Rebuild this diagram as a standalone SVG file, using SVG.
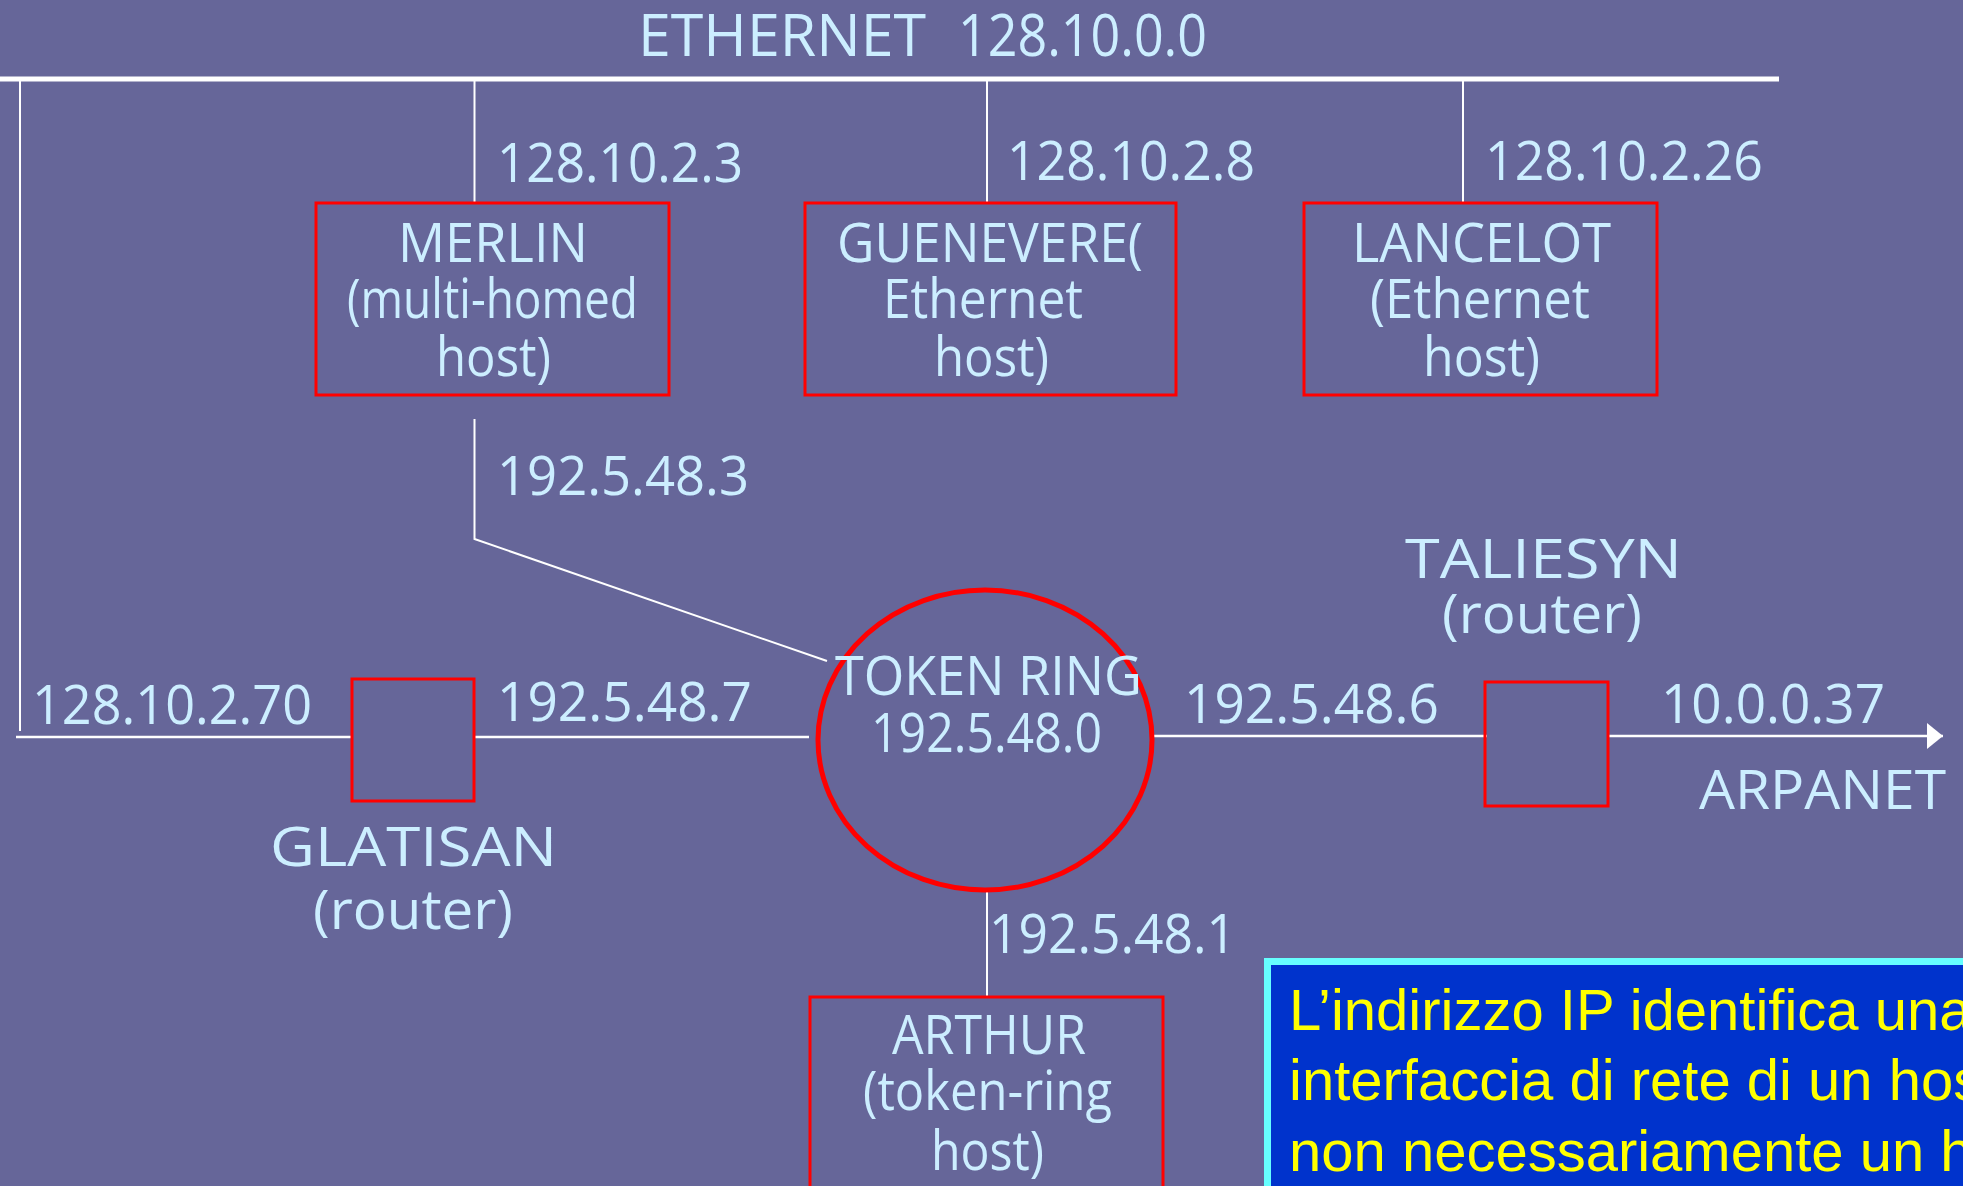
<svg xmlns="http://www.w3.org/2000/svg" width="1963" height="1186" viewBox="0 0 1963 1186">
<style>
.t{font-family:"Open Sans","DejaVu Sans",sans-serif;fill:#CCEEFF;font-size:54px}
.ti{font-size:58px}
.box{fill:none;stroke:#FF0000;stroke-width:3}
.ln{stroke:#FFFFFF;stroke-width:2;fill:none}
.ln2{stroke:#FFFFFF;stroke-width:2.5;fill:none}
.note{font-family:"Liberation Sans",Arial,sans-serif;font-size:58px;fill:#FFFF00}
</style>
<defs>
<marker id="arr" markerUnits="userSpaceOnUse" markerWidth="18" markerHeight="28" refX="16" refY="13" orient="auto">
<path d="M0,0 L16,13 L0,26 Z" fill="#FFFFFF"/>
</marker>
</defs>
<rect width="1963" height="1186" fill="#666699"/>

<g id="ethernet">
<line x1="0" y1="79" x2="1779" y2="79" stroke="#FFFFFF" stroke-width="5"/>
<text class="t ti" y="56"><tspan x="638" textLength="288" lengthAdjust="spacingAndGlyphs">ETHERNET</tspan><tspan x="958" textLength="249" lengthAdjust="spacingAndGlyphs">128.10.0.0</tspan></text>
</g>

<g id="connectors">
<line class="ln" x1="20" y1="79" x2="20" y2="731"/>
<line class="ln" x1="474.5" y1="79" x2="474.5" y2="203"/>
<line class="ln" x1="987" y1="79" x2="987" y2="203"/>
<line class="ln" x1="1463" y1="79" x2="1463" y2="203"/>
<polyline class="ln" points="474.5,419 474.5,539 827,661"/>
<line class="ln2" x1="16" y1="737" x2="351" y2="737"/>
<line class="ln2" x1="475" y1="737" x2="809" y2="737"/>
<line class="ln2" x1="1154" y1="736" x2="1487" y2="736"/>
<line class="ln2" x1="1608" y1="736" x2="1943" y2="736" marker-end="url(#arr)"/>
<line class="ln" x1="987" y1="891" x2="987" y2="997"/>
</g>

<g id="labels">
<text class="t" x="497" y="182" textLength="246" lengthAdjust="spacingAndGlyphs">128.10.2.3</text>
<text class="t" x="1007" y="180" textLength="248" lengthAdjust="spacingAndGlyphs">128.10.2.8</text>
<text class="t" x="1485" y="180" textLength="278" lengthAdjust="spacingAndGlyphs">128.10.2.26</text>
<text class="t" x="497" y="495" textLength="252" lengthAdjust="spacingAndGlyphs">192.5.48.3</text>
<text class="t" x="32" y="724" textLength="280" lengthAdjust="spacingAndGlyphs">128.10.2.70</text>
<text class="t" x="497" y="721" textLength="255" lengthAdjust="spacingAndGlyphs">192.5.48.7</text>
<text class="t" x="1184" y="723" textLength="255" lengthAdjust="spacingAndGlyphs">192.5.48.6</text>
<text class="t" x="1661" y="723" textLength="224" lengthAdjust="spacingAndGlyphs">10.0.0.37</text>
<text class="t" x="1699" y="809" textLength="247" lengthAdjust="spacingAndGlyphs">ARPANET</text>
<text class="t" x="989" y="953" textLength="247" lengthAdjust="spacingAndGlyphs">192.5.48.1</text>
</g>

<g id="merlin">
<rect class="box" x="316" y="203" width="353" height="192"/>
<text class="t" x="398" y="262" textLength="190" lengthAdjust="spacingAndGlyphs">MERLIN</text>
<text class="t" x="347" y="318" textLength="291" lengthAdjust="spacingAndGlyphs">(multi-homed</text>
<text class="t" x="436" y="376" textLength="115" lengthAdjust="spacingAndGlyphs">host)</text>
</g>

<g id="guenevere">
<rect class="box" x="805" y="203" width="371" height="192"/>
<text class="t" x="837" y="262" textLength="306" lengthAdjust="spacingAndGlyphs">GUENEVERE(</text>
<text class="t" x="883" y="318" textLength="200" lengthAdjust="spacingAndGlyphs">Ethernet</text>
<text class="t" x="934" y="376" textLength="115" lengthAdjust="spacingAndGlyphs">host)</text>
</g>

<g id="lancelot">
<rect class="box" x="1304" y="203" width="353" height="192"/>
<text class="t" x="1352" y="262" textLength="259" lengthAdjust="spacingAndGlyphs">LANCELOT</text>
<text class="t" x="1370" y="318" textLength="220" lengthAdjust="spacingAndGlyphs">(Ethernet</text>
<text class="t" x="1423" y="376" textLength="117" lengthAdjust="spacingAndGlyphs">host)</text>
</g>

<g id="glatisan">
<rect class="box" x="352" y="679" width="122" height="122"/>
<text class="t" x="270" y="866" textLength="287" lengthAdjust="spacingAndGlyphs">GLATISAN</text>
<text class="t" x="313" y="929" textLength="200" lengthAdjust="spacingAndGlyphs">(router)</text>
</g>

<g id="tokenring">
<ellipse cx="985" cy="740" rx="167" ry="150" fill="none" stroke="#FF0000" stroke-width="5"/>
<text class="t" x="835" y="695" textLength="307" lengthAdjust="spacingAndGlyphs">TOKEN RING</text>
<text class="t" x="871" y="752" textLength="231" lengthAdjust="spacingAndGlyphs">192.5.48.0</text>
</g>

<g id="taliesyn">
<rect class="box" x="1485" y="682" width="123" height="124"/>
<text class="t" x="1405" y="578" textLength="277" lengthAdjust="spacingAndGlyphs">TALIESYN</text>
<text class="t" x="1442" y="633" textLength="200" lengthAdjust="spacingAndGlyphs">(router)</text>
</g>

<g id="arthur">
<rect class="box" x="810" y="997" width="353" height="220"/>
<text class="t" x="892" y="1054" textLength="194" lengthAdjust="spacingAndGlyphs">ARTHUR</text>
<text class="t" x="863" y="1110" textLength="249" lengthAdjust="spacingAndGlyphs">(token-ring</text>
<text class="t" x="931" y="1170" textLength="113" lengthAdjust="spacingAndGlyphs">host)</text>
</g>

<g id="note">
<rect x="1267.5" y="961.5" width="720" height="260" fill="#0033CC" stroke="#66FFFF" stroke-width="7"/>
<text class="note" x="1289" y="1030">L’indirizzo IP identifica una</text>
<text class="note" x="1289" y="1100">interfaccia di rete di un host</text>
<text class="note" x="1289" y="1171">non necessariamente un host</text>
</g>
</svg>
